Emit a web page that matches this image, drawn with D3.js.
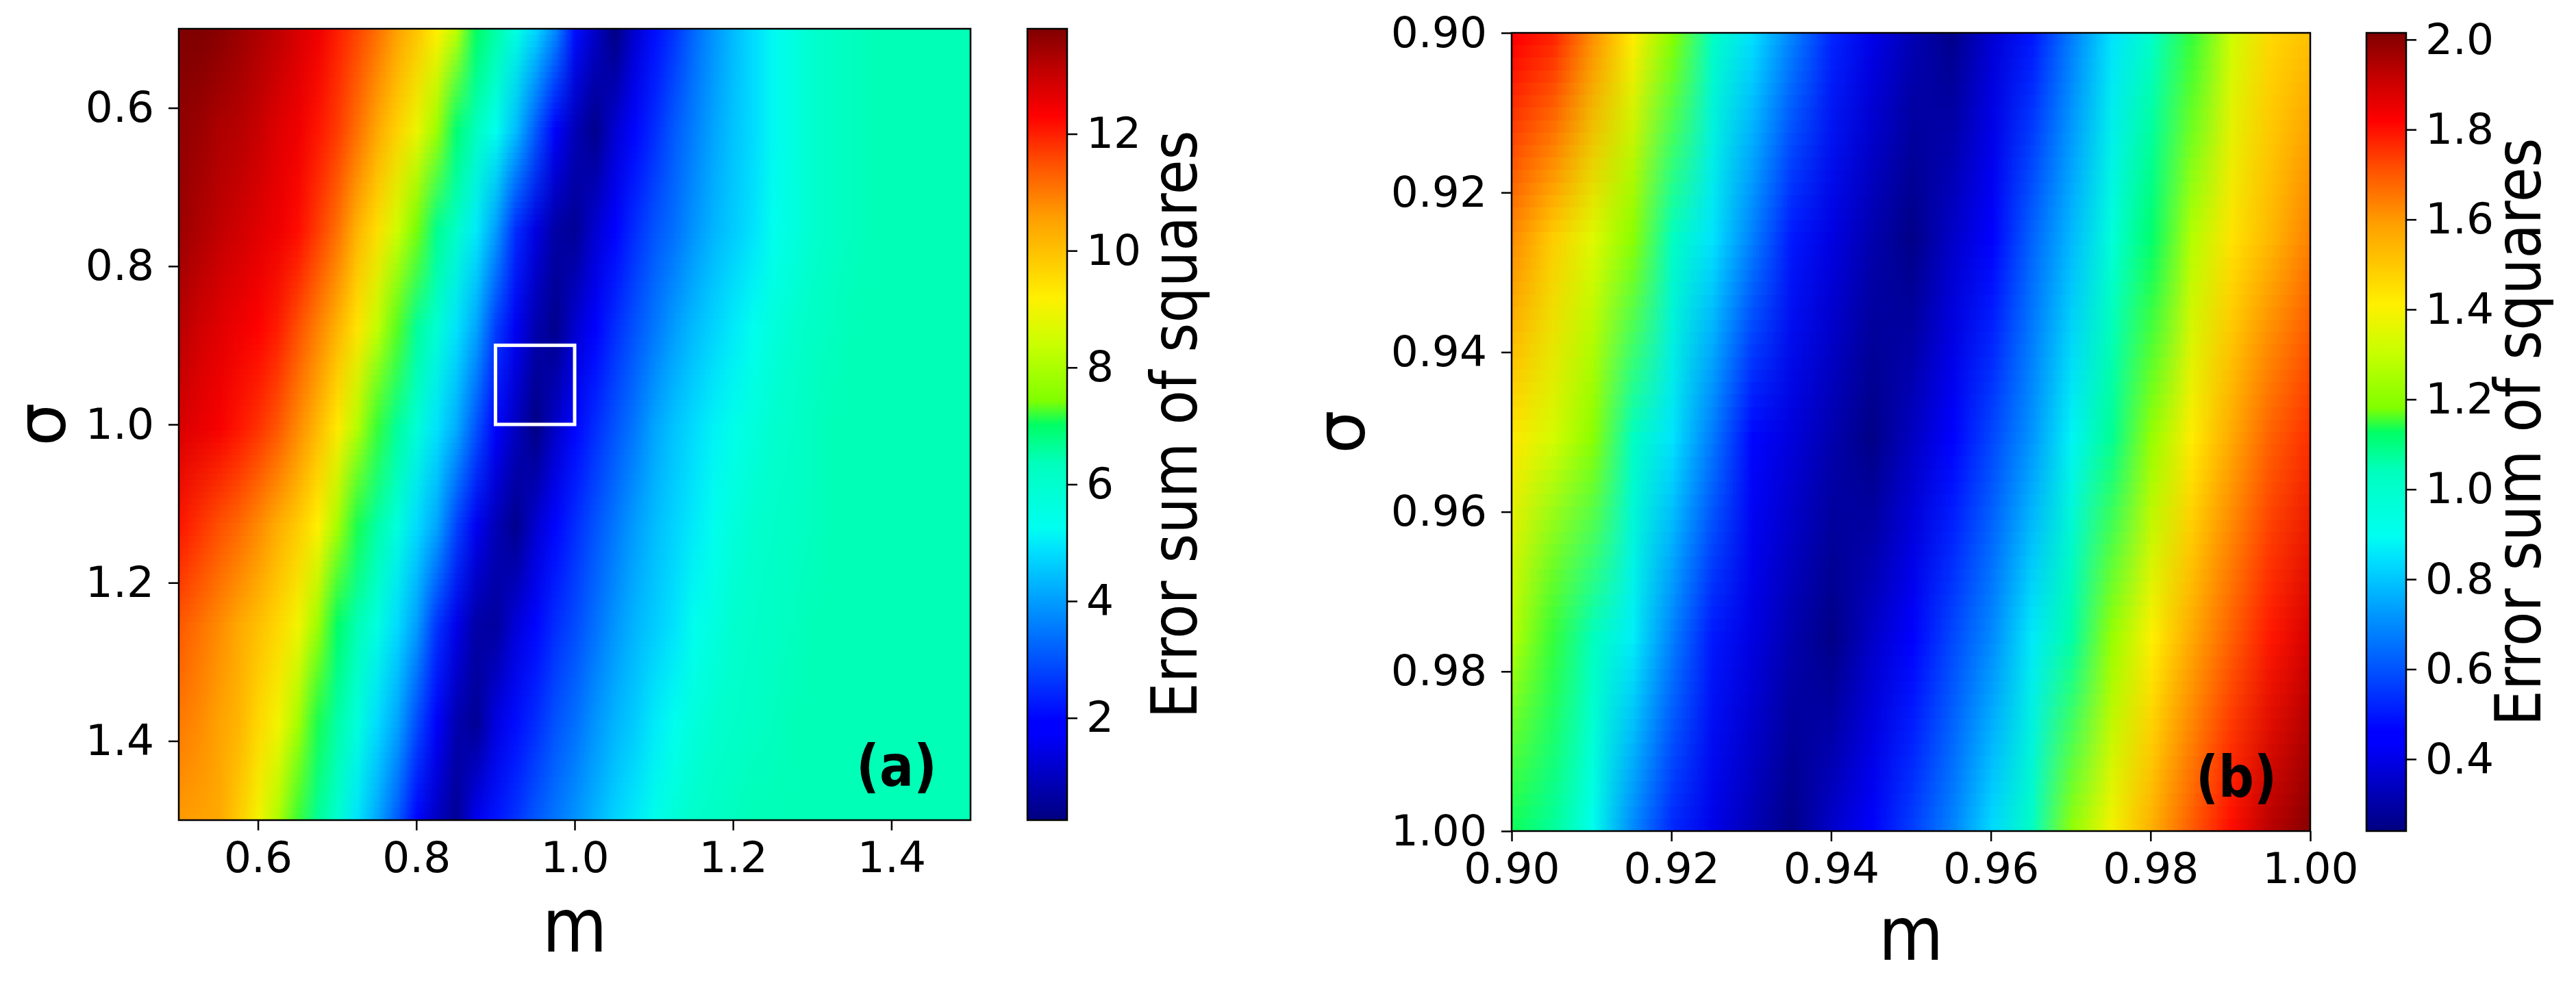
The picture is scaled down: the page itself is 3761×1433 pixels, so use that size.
<!DOCTYPE html>
<html>
<head>
<meta charset="utf-8">
<script src="https://cdn.jsdelivr.net/npm/d3@7"></script>
<style>
  body { margin: 0; background: #fff; }
  svg text { font-family: "DejaVu Sans", sans-serif; }
</style>
</head>
<body>
<svg id="fig" width="3761" height="1433"></svg>
<script>
// ---- panel (a): error sum of squares, rows = sigma, cols = m
var mA = [0.5,0.525,0.55,0.575,0.6,0.625,0.65,0.675,0.7,0.725,0.75,0.775,0.8,0.825,0.85,0.875,0.9,0.925,0.95,0.975,
          1.0,1.025,1.05,1.075,1.1,1.125,1.15,1.175,1.2,1.225,1.25,1.275,1.3,1.325,1.35,1.375,1.4,1.425,1.45,1.475,1.5];
var sigmaA = [0.5,0.625,0.75,0.875,1.0,1.125,1.25,1.375,1.5];

var a_s0500 = [13.8,13.8,13.7,13.5,13.3,13.1,12.8,12.5,12.0,11.6,11.1,10.5,9.9,9.2,8.2,7.0,6.5,5.6,4.7,3.7,2.1,1.1,0.3,1.2,2.1,2.6,3.3,3.9,4.4,4.8,5.2,5.6,6.0,6.2,6.3,6.4,6.4,6.4,6.4,6.4,6.4];
var a_s0625 = [13.6,13.5,13.3,13.2,13.0,12.7,12.5,12.1,11.7,11.1,10.4,9.7,8.9,7.8,6.9,6.3,5.3,4.4,3.1,1.7,0.9,0.4,1.2,2.0,2.5,3.1,3.6,4.1,4.5,4.8,5.2,5.6,6.0,6.2,6.3,6.4,6.4,6.4,6.4,6.4,6.4];
var a_s0750 = [13.5,13.3,13.1,12.9,12.7,12.5,12.2,11.7,11.1,10.2,9.5,8.5,7.4,6.7,6.1,5.0,4.0,2.5,1.4,0.7,0.5,1.2,1.9,2.5,3.0,3.4,3.9,4.3,4.6,4.9,5.3,5.6,6.0,6.2,6.3,6.4,6.4,6.4,6.4,6.4,6.4];
var a_s0875 = [13.2,12.9,12.7,12.5,12.3,12.0,11.5,10.9,10.2,9.4,8.3,7.3,6.6,5.9,4.9,4.1,2.7,1.6,0.8,0.4,1.2,1.9,2.5,3.0,3.5,4.0,4.4,4.7,5.0,5.3,5.7,6.0,6.2,6.3,6.4,6.4,6.4,6.4,6.4,6.4,6.4];
var a_s1000 = [12.8,12.6,12.4,12.1,11.8,11.4,10.8,10.1,9.3,8.1,7.2,6.6,5.8,4.9,4.2,3.0,1.8,1.0,0.3,1.1,2.0,2.5,3.0,3.5,4.1,4.5,4.8,5.1,5.4,5.7,6.0,6.1,6.3,6.4,6.4,6.4,6.4,6.4,6.4,6.4,6.4];
var a_s1125 = [12.1,11.8,11.5,11.2,10.8,10.3,9.8,9.2,7.9,7.1,6.5,5.7,4.8,4.1,2.8,1.6,0.9,0.4,1.2,2.0,2.5,3.0,3.5,4.0,4.4,4.7,5.0,5.3,5.7,6.0,6.1,6.2,6.3,6.4,6.4,6.4,6.4,6.4,6.4,6.4,6.4];
var a_s1250 = [11.4,11.1,10.8,10.4,10.0,9.6,9.0,7.8,7.0,6.4,5.6,4.8,4.0,2.6,1.5,0.7,0.6,1.3,2.0,2.5,2.9,3.4,3.9,4.3,4.6,4.9,5.3,5.6,6.0,6.1,6.2,6.3,6.4,6.4,6.4,6.4,6.4,6.4,6.4,6.4,6.4];
var a_s1375 = [11.0,10.8,10.5,10.2,9.6,9.0,7.9,7.1,6.5,5.7,4.8,4.1,2.9,1.7,0.8,0.5,1.4,2.1,2.5,3.0,3.4,3.9,4.3,4.6,5.0,5.3,5.7,6.0,6.1,6.2,6.3,6.4,6.4,6.4,6.4,6.4,6.4,6.4,6.4,6.4,6.4];
var a_s1500 = [10.6,10.5,10.4,9.8,9.0,8.0,7.2,6.6,5.9,4.9,4.1,3.1,1.9,1.0,0.5,1.6,2.2,2.6,3.1,3.5,3.9,4.3,4.7,5.0,5.4,5.8,6.1,6.2,6.3,6.4,6.4,6.4,6.4,6.4,6.4,6.4,6.4,6.4,6.4,6.4,6.4];

var ticksA = [0.6, 0.8, 1.0, 1.2, 1.4];
var cbTicksA = [2, 4, 6, 8, 10, 12];
var cbRangeA = [0.25, 13.8];
var zoomBox = [0.9, 1.0];   // m and sigma limits of panel (b)

// ---- panel (b)
var mB = [0.9,0.905,0.91,0.915,0.92,0.925,0.93,0.935,0.94,0.945,0.95,0.955,0.96,0.965,0.97,0.975,0.98,0.985,0.99,0.995,1.0];
var sigmaB = [0.9,0.925,0.95,0.975,1.0];

var b_s0900 = [1.82,1.77,1.61,1.42,1.19,1.02,0.84,0.68,0.52,0.40,0.32,0.26,0.37,0.50,0.68,0.85,1.01,1.15,1.32,1.47,1.52];
var b_s0925 = [1.62,1.49,1.35,1.20,1.03,0.85,0.68,0.50,0.39,0.31,0.25,0.35,0.46,0.63,0.78,0.96,1.12,1.27,1.44,1.54,1.64];
var b_s0950 = [1.43,1.33,1.20,1.03,0.85,0.67,0.47,0.38,0.31,0.25,0.34,0.44,0.58,0.72,0.88,1.08,1.22,1.42,1.57,1.69,1.76];
var b_s0975 = [1.27,1.15,1.04,0.87,0.68,0.50,0.39,0.31,0.25,0.35,0.44,0.58,0.70,0.86,1.06,1.22,1.41,1.57,1.69,1.79,1.89];
var b_s1000 = [1.13,1.07,0.90,0.69,0.52,0.40,0.32,0.25,0.36,0.44,0.57,0.69,0.84,1.03,1.22,1.40,1.56,1.70,1.81,1.94,2.01];

var ticksB = [0.90, 0.92, 0.94, 0.96, 0.98, 1.00];
var cbTicksB = [0.4, 0.6, 0.8, 1.0, 1.2, 1.4, 1.6, 1.8, 2.0];
var cbRangeB = [0.24, 2.015];

// jet-like colour stops
var jetT = [0, 0.11, 0.125, 0.2, 0.27, 0.34, 0.37, 0.45, 0.5, 0.53, 0.6, 0.66, 0.76, 0.83, 0.89, 0.95, 1];
var jetC = ["#000080","#0000ff","#0000ff","#0050ff","#0096ff","#00e0ff","#00fff0","#00ffbe","#00ff64",
            "#80ff00","#c8ff00","#fff000","#ffa000","#ff5000","#ff0000","#be0000","#800000"];

var svg = d3.select("#fig");
var defs = svg.append("defs");

function jet(lo, hi) {
  return d3.scaleLinear()
    .domain(jetT.map(t => lo + t * (hi - lo)))
    .range(jetC)
    .interpolate(d3.interpolateRgb)
    .clamp(true);
}

function panel(p) {
  var x = d3.scaleLinear().domain(p.xDom).range([p.left, p.left + p.size]);
  var y = d3.scaleLinear().domain(p.yDom).range([p.top, p.top + p.size]);
  var color = jet(p.cbRange[0], p.cbRange[1]);

  // heat map: one canvas pixel per grid cell, smoothed when scaled up
  var cv = document.createElement("canvas");
  cv.width = p.mGrid.length;
  cv.height = p.sGrid.length;
  var ctx = cv.getContext("2d");
  p.grid.forEach((row, j) => {
    row.forEach((v, i) => {
      ctx.fillStyle = color(v);
      ctx.fillRect(i, j, 1, 1);
    });
  });
  var dm = p.mGrid[1] - p.mGrid[0], ds = p.sGrid[1] - p.sGrid[0];

  defs.append("clipPath").attr("id", "clip" + p.id)
    .append("rect")
    .attr("x", p.left).attr("y", p.top)
    .attr("width", p.size).attr("height", p.size);

  var x0 = x(p.mGrid[0] - dm / 2), x1 = x(p.mGrid[p.mGrid.length - 1] + dm / 2);
  var y0 = y(p.sGrid[0] - ds / 2), y1 = y(p.sGrid[p.sGrid.length - 1] + ds / 2);
  svg.append("image")
    .attr("href", cv.toDataURL())
    .attr("x", x0).attr("y", y0)
    .attr("width", x1 - x0).attr("height", y1 - y0)
    .attr("preserveAspectRatio", "none")
    .attr("clip-path", "url(#clip" + p.id + ")");

  if (p.box) {
    svg.append("rect")
      .attr("x", x(p.box[0])).attr("y", y(p.box[0]))
      .attr("width", x(p.box[1]) - x(p.box[0]))
      .attr("height", y(p.box[1]) - y(p.box[0]))
      .attr("fill", "none").attr("stroke", "#fff").attr("stroke-width", 5);
  }

  svg.append("rect")
    .attr("x", p.left).attr("y", p.top)
    .attr("width", p.size).attr("height", p.size)
    .attr("fill", "none").attr("stroke", "#000").attr("stroke-width", 2.5);

  var fmt = d3.format(p.fmt);
  var gx = svg.append("g")
    .attr("transform", `translate(0,${p.top + p.size})`)
    .call(d3.axisBottom(x).tickValues(p.ticks).tickFormat(fmt).tickSize(15).tickPadding(16));
  var gy = svg.append("g")
    .attr("transform", `translate(${p.left},0)`)
    .call(d3.axisLeft(y).tickValues(p.ticks).tickFormat(fmt).tickSize(15).tickPadding(21));
  [gx, gy].forEach(g => {
    g.select(".domain").remove();
    g.selectAll("line").attr("stroke-width", 2.5);
    g.selectAll("text").attr("font-size", 63).attr("font-family", "DejaVu Sans").attr("fill", "#000");
  });

  // colour bar
  var gradId = "grad" + p.id;
  var grad = defs.append("linearGradient").attr("id", gradId)
    .attr("x1", 0).attr("y1", 1).attr("x2", 0).attr("y2", 0);
  jetT.forEach((t, i) => grad.append("stop").attr("offset", t).attr("stop-color", jetC[i]));

  svg.append("rect")
    .attr("x", p.cbLeft).attr("y", p.top)
    .attr("width", p.cbWidth).attr("height", p.size)
    .attr("fill", `url(#${gradId})`)
    .attr("stroke", "#000").attr("stroke-width", 2.5);

  var cy = d3.scaleLinear().domain(p.cbRange).range([p.top + p.size, p.top]);
  var gc = svg.append("g")
    .attr("transform", `translate(${p.cbLeft + p.cbWidth},0)`)
    .call(d3.axisRight(cy).tickValues(p.cbTicks).tickFormat(d3.format(p.cbFmt)).tickSize(15).tickPadding(13));
  gc.select(".domain").remove();
  gc.selectAll("line").attr("stroke-width", 2.5);
  gc.selectAll("text").attr("font-size", 63).attr("font-family", "DejaVu Sans").attr("fill", "#000");

  svg.append("text")
    .attr("transform", `translate(${p.cbLeft + p.cbWidth + p.cbLabelOff},${p.top + p.size / 2}) rotate(-90)`)
    .attr("text-anchor", "middle")
    .attr("font-size", 92)
    .style("font-stretch", "semi-condensed")
    .attr("textLength", 859).attr("lengthAdjust", "spacingAndGlyphs")
    .text("Error sum of squares");

  // axis labels
  svg.append("text")
    .attr("x", p.left + p.size / 2).attr("y", p.top + p.size + p.mOff)
    .attr("text-anchor", "middle")
    .attr("font-size", 108)
    .style("font-stretch", "semi-condensed")
    .text("m");
  svg.append("text")
    .attr("transform", `translate(${p.left - p.sigmaOff},${p.top + p.size / 2}) rotate(-90)`)
    .attr("text-anchor", "middle")
    .attr("font-size", 100)
    .text("σ");

  svg.append("text")
    .attr("x", p.left + p.size - 49).attr("y", p.top + p.size - p.labelUp)
    .attr("text-anchor", "end")
    .attr("font-size", 84).attr("font-weight", "bold")
    .attr("textLength", 118).attr("lengthAdjust", "spacingAndGlyphs")
    .text(p.label);
}

panel({
  id: "a", left: 261, top: 42, size: 1156,
  xDom: [0.5, 1.5], yDom: [0.5, 1.5],
  mGrid: mA, sGrid: sigmaA,
  grid: [a_s0500, a_s0625, a_s0750, a_s0875, a_s1000, a_s1125, a_s1250, a_s1375, a_s1500],
  ticks: ticksA, fmt: ".1f",
  cbLeft: 1500, cbWidth: 58, cbRange: cbRangeA, cbTicks: cbTicksA, cbFmt: "d", cbLabelOff: 189,
  box: zoomBox, sigmaOff: 166, mOff: 192, labelUp: 50, label: "(a)"
});

panel({
  id: "b", left: 2207, top: 48, size: 1166,
  xDom: [0.9, 1.0], yDom: [0.9, 1.0],
  mGrid: mB, sGrid: sigmaB,
  grid: [b_s0900, b_s0925, b_s0950, b_s0975, b_s1000],
  ticks: ticksB, fmt: ".2f",
  cbLeft: 3455, cbWidth: 58, cbRange: cbRangeB, cbTicks: cbTicksB, cbFmt: ".1f", cbLabelOff: 196,
  box: null, sigmaOff: 215, mOff: 188, labelUp: 50, label: "(b)"
});
</script>
</body>
</html>
